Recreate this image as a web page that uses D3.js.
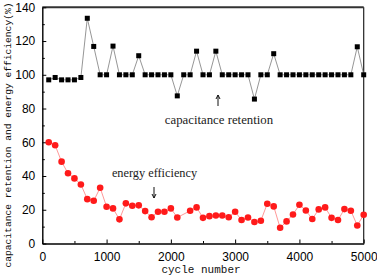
<!DOCTYPE html>
<html><head><meta charset="utf-8">
<script src="https://cdn.jsdelivr.net/npm/d3@7"></script>
<style>body{margin:0;background:#fff}svg{display:block}</style>
</head><body>
<svg id="c" width="377" height="277"></svg>
<script>
const cycles = d3.range(100, 5001, 100);
const retention = [97,98.4,97,97,97,98.4,133.5,116.8,100,100,117,100,100,100,111.3,100,100,100,100,100,87.5,100,100,114,100,100,114,100,100,100,100,100,85.6,100,100,112.5,100,100,100,100,100,100,100,100,100,100,100,100,116.6,100];
const efficiency = [60,58.2,48.5,41.6,38.6,35,26.3,25.3,33,21.8,20.8,14.3,23.8,22.4,22.6,19.2,15.6,18.8,18.8,20.8,15.4,null,19.4,21.4,15.2,16.2,16.6,16.6,15.6,18.8,13.9,15.4,12.7,13.5,23.6,22,9.3,13.1,17.2,23,19.6,14.5,20.2,21.4,15.2,13.9,20.4,19.4,10.7,17];
const xTicks = [0,1000,2000,3000,4000,5000];
const yTicks = [0,20,40,60,80,100,120,140];

const L=42.3,R=363.7,T=7.3,B=243.5;
const svg=d3.select("#c");
const x=d3.scaleLinear().domain([0,5000]).range([L,R]);
const y=d3.scaleLinear().domain([0,140]).range([B,T]);

// frame top & right
svg.append("line").attr("x1",L).attr("x2",R).attr("y1",T).attr("y2",T).attr("stroke","#333").attr("stroke-width",2);
svg.append("line").attr("x1",R).attr("x2",R).attr("y1",T).attr("y2",B).attr("stroke","#222").attr("stroke-width",1.2);

// axes
const xa=svg.append("g").attr("transform",`translate(0,${B})`)
  .call(d3.axisBottom(x).tickValues(xTicks).tickFormat(d3.format("d")).tickSizeInner(-4).tickSizeOuter(0).tickPadding(9));
xa.selectAll(".tick").filter(()=>false);
svg.append("g").attr("transform",`translate(0,${B})`)
  .call(d3.axisBottom(x).tickValues([500,1500,2500,3500,4500]).tickFormat("").tickSizeInner(-2.5).tickSizeOuter(0))
  .call(g=>g.select(".domain").remove());
const ya=svg.append("g").attr("transform",`translate(${L},0)`)
  .call(d3.axisLeft(y).tickValues(yTicks).tickSizeInner(-4).tickSizeOuter(0).tickPadding(7));
svg.append("g").attr("transform",`translate(${L},0)`)
  .call(d3.axisLeft(y).tickValues([10,30,50,70,90,110,130]).tickFormat("").tickSizeInner(-2.5).tickSizeOuter(0))
  .call(g=>g.select(".domain").remove());
svg.selectAll(".domain").attr("stroke","#000").attr("stroke-width",1.4);
svg.selectAll(".tick line").attr("stroke","#000").attr("stroke-width",1);
svg.selectAll(".tick text").attr("font-family","'Liberation Sans',Arial,sans-serif").attr("font-size",12).attr("fill","#000");

// retention series
const retData=cycles.map((c,i)=>({c,v:retention[i]}));
svg.append("path").datum(retData).attr("fill","none").attr("stroke","#8a8a8a").attr("stroke-width",0.9)
  .attr("d",d3.line().x(d=>x(d.c)).y(d=>y(d.v)));
svg.append("g").selectAll("rect").data(retData).join("rect")
  .attr("x",d=>x(d.c)-2.5).attr("y",d=>y(d.v)-2.5).attr("width",5).attr("height",5).attr("fill","#000");

// efficiency series
const effData=cycles.map((c,i)=>({c,v:efficiency[i]})).filter(d=>d.v!=null);
svg.append("path").datum(effData).attr("fill","none").attr("stroke","#ff8c8c").attr("stroke-width",0.9)
  .attr("d",d3.line().x(d=>x(d.c)).y(d=>y(d.v)));
svg.append("g").selectAll("circle").data(effData).join("circle")
  .attr("cx",d=>x(d.c)).attr("cy",d=>y(d.v)).attr("r",3.3).attr("fill","#ff1a1a");

// annotations
const serif="'Liberation Serif','Times New Roman',serif";
svg.append("text").attr("x",219).attr("y",124).attr("text-anchor","middle").attr("font-family",serif).attr("font-size",12.8).attr("fill","#222").text("capacitance retention");
svg.append("text").attr("x",154.5).attr("y",177).attr("text-anchor","middle").attr("font-family",serif).attr("font-size",12.3).attr("fill","#222").text("energy efficiency");
function arrow(x0,y0,y1){
  svg.append("line").attr("x1",x0).attr("x2",x0).attr("y1",y0).attr("y2",y1).attr("stroke","#111").attr("stroke-width",1);
  const dir=Math.sign(y1-y0);
  svg.append("path").attr("d",`M${x0-2},${y1-dir*4}L${x0},${y1}L${x0+2},${y1-dir*4}`).attr("fill","none").attr("stroke","#111").attr("stroke-width",1);
}
arrow(218,106,95);
arrow(154,187,198);

// axis labels
const mono="'Liberation Mono','DejaVu Sans Mono',monospace";
svg.append("text").attr("x",201).attr("y",273).attr("text-anchor","middle").attr("font-family",mono).attr("font-size",11).attr("fill","#111").text("cycle number");
svg.append("text").attr("transform","translate(10.5,135) rotate(-90)").attr("text-anchor","middle").attr("font-family",mono).attr("font-size",9.6).attr("fill","#111").text("capacitance retention and energy efficiency(%)");
</script>
</body></html>
